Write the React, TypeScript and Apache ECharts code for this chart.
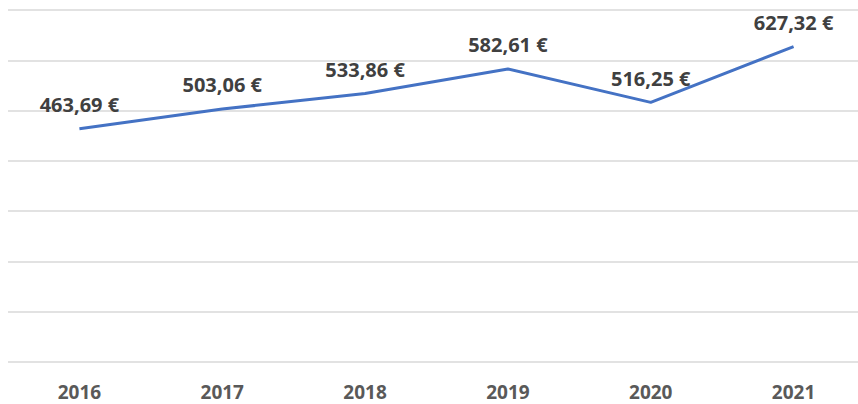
import React, { useEffect, useRef } from "react";
import * as echarts from "echarts";

const years = ["2016", "2017", "2018", "2019", "2020", "2021"];
const values = [463.69, 503.06, 533.86, 582.61, 516.25, 627.32];

export default function App() {
  const ref = useRef<HTMLDivElement>(null);
  useEffect(() => {
    const chart = echarts.init(ref.current!, undefined, { renderer: "svg" });
    chart.setOption({
      animation: false,
      grid: { left: 8, top: 10, width: 857, height: 352, containLabel: false, outerBoundsMode: "none" },
      xAxis: {
        type: "category",
        data: years,
        boundaryGap: true,
        axisLine: { show: false },
        axisTick: { show: false },
        axisLabel: {
          margin: 20,
          fontFamily: "Open Sans",
          fontWeight: "bold",
          fontSize: 19,
          lineHeight: 19,
          color: "#595959",
        },
      },
      yAxis: {
        type: "value",
        min: 0,
        max: 700,
        interval: 100,
        axisLabel: { show: false },
        axisLine: { show: false },
        axisTick: { show: false },
        splitLine: { lineStyle: { color: "#d9d9d9", width: 1.5 } },
      },
      series: [
        {
          type: "line",
          data: values,
          symbol: "circle",
          symbolSize: 0.1,
          itemStyle: { color: "#4472C4" },
          lineStyle: { color: "#4472C4", width: 3 },
          label: {
            show: true,
            position: "top",
            distance: 14,
            fontFamily: "Open Sans",
            fontWeight: "bold",
            fontSize: 20,
            lineHeight: 20,
            color: "#404040",
            formatter: (p: any) => p.value.toFixed(2).replace(".", ",") + " €",
          },
        },
      ],
    });
    return () => chart.dispose();
  }, []);
  return (
    <div
      ref={ref}
      style={{ position: "fixed", left: 0, top: 0, width: 858, height: 404, background: "#fff" }}
    />
  );
}
